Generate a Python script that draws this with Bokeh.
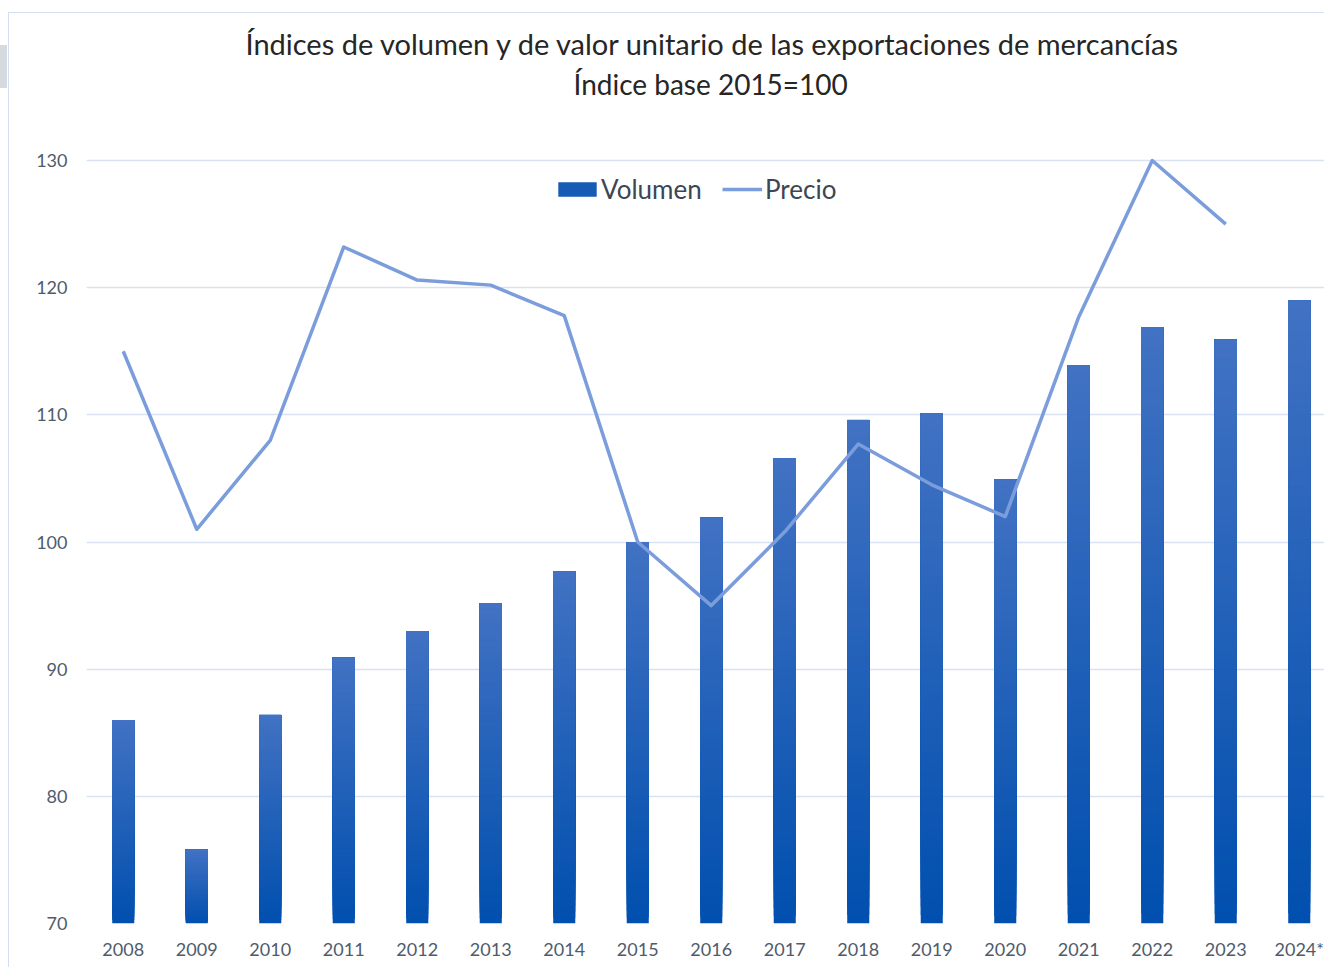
from bokeh.plotting import figure
from bokeh.models import (Range1d, FixedTicker, Legend, LegendItem, Title,
                          ColumnDataSource, InlineStyleSheet)
from bokeh.embed import file_html
from bokeh.resources import INLINE

years = ["2008", "2009", "2010", "2011", "2012", "2013", "2014", "2015", "2016",
         "2017", "2018", "2019", "2020", "2021", "2022", "2023", "2024*"]
volumen = [86.0, 75.8, 86.4, 90.9, 93.0, 95.2, 97.7, 100.0, 101.9,
           106.6, 109.6, 110.1, 104.9, 113.9, 116.9, 115.9, 119.0]
precio = [115.0, 101.0, 108.0, 123.2, 120.6, 120.2, 117.8, 100.0, 95.0,
          100.8, 107.7, 104.5, 102.0, 117.7, 130.0, 125.0]
y_ticks = [70, 80, 90, 100, 110, 120, 130]
title_line1 = "Índices de volumen y de valor unitario de las exportaciones de mercancías"
title_line2 = "Índice base 2015=100"

FONT = "Lato"
BASE = 70.0
TOP_C = (0x42, 0x72, 0xC3)
BOT_C = (0x00, 0x4F, 0xAE)
NSLICE = 60

W, H = 1324, 967
FRAME_L, FRAME_T, FRAME_B = 86, 100, 923
PX_PER_UNIT = (923 - 160) / 60.0
y_end = BASE + (FRAME_B - FRAME_T) / PX_PER_UNIT
x_end = -0.5 + (W - FRAME_L) / 73.5

p = figure(width=W, height=H, output_backend="svg", toolbar_location=None,
           x_range=Range1d(-0.5, x_end), y_range=Range1d(BASE, y_end),
           min_border_left=FRAME_L, min_border_right=0, min_border_top=FRAME_T,
           min_border_bottom=H - FRAME_B, title=None)
p.outline_line_color = None
p.background_fill_color = "white"
p.border_fill_color = "white"

# gradient bars: overlapping slices, each from its own bottom up to the bar value
xs, bots, tops, cols = [], [], [], []
for i, v in enumerate(volumen):
    for k in range(NSLICE):
        b = BASE + (v - BASE) * k / NSLICE
        f = (k + 0.5) / NSLICE  # 0 bottom -> 1 top
        c = tuple(int(round(BOT_C[j] + (TOP_C[j] - BOT_C[j]) * f)) for j in range(3))
        xs.append(i); bots.append(b); tops.append(v)
        cols.append("#%02x%02x%02x" % c)
bar_src = ColumnDataSource(dict(x=xs, bottom=bots, top=tops, color=cols))
r_bar = p.vbar(x="x", bottom="bottom", top="top", width=0.3, source=bar_src,
               fill_color="color", line_color=None)

r_line = p.line(x=list(range(len(precio))), y=precio, line_color="#7b9ddc",
                line_width=3.5, line_join="round")

# axes
p.xaxis.ticker = FixedTicker(ticks=list(range(len(years))))
p.xaxis.major_label_overrides = {i: y for i, y in enumerate(years)}
p.yaxis.ticker = FixedTicker(ticks=y_ticks)
for ax in (p.xaxis[0], p.yaxis[0]):
    ax.axis_line_color = None
    ax.major_tick_line_color = None
    ax.minor_tick_line_color = None
    ax.major_label_text_font = FONT
    ax.major_label_text_font_size = "18px"
    ax.major_label_text_color = "#4f5b6b"
p.xaxis.major_label_standoff = 8
p.yaxis.major_label_standoff = 13
p.xgrid.grid_line_color = None
p.ygrid.ticker = FixedTicker(ticks=y_ticks)
p.ygrid.grid_line_color = "#d9e2f3"
p.ygrid.grid_line_width = 1.5

# title (two lines)
t2 = Title(text=title_line2, align="left", offset=487, text_font=FONT,
           text_font_size="28px", text_font_style="normal", text_color="#262626",
           standoff=0)
t1 = Title(text=title_line1, align="left", offset=159, text_font=FONT,
           text_font_size="29px", text_font_style="normal", text_color="#262626",
           standoff=7)
p.add_layout(t2, "above")
p.add_layout(t1, "above")

# legend (two pieces so each swatch gets its own size)
common = dict(orientation="horizontal", label_text_font=FONT,
              label_text_font_size="26px", label_text_color="#3c4654",
              label_height=30, margin=0, padding=0, border_line_color=None,
              background_fill_alpha=0)
leg1 = Legend(items=[LegendItem(label="Volumen", renderers=[r_bar], index=NSLICE // 3)],
              location=(553 - FRAME_L, FRAME_B - 205), glyph_width=48,
              glyph_height=18, label_standoff=0, **common)
leg2 = Legend(items=[LegendItem(label="Precio", renderers=[r_line])],
              location=(722 - FRAME_L, FRAME_B - 205), glyph_width=40,
              glyph_height=14, label_standoff=3, **common)
p.add_layout(leg1, "center")
p.add_layout(leg2, "center")

# light chart-area border (left and top) and the grey sliver at the far left
p.stylesheets = [InlineStyleSheet(css="""
:host { position: relative; }
:host::after { content: ""; position: absolute; left: 8px; top: 12px;
  right: -20px; bottom: -20px; border-left: 1.5px solid #d3def2;
  border-top: 1.5px solid #d3def2; pointer-events: none; z-index: 10; }
:host::before { content: ""; position: absolute; left: 0px; top: 45px;
  width: 7px; height: 43px; background: #d6dade; pointer-events: none; z-index: 10; }
""")]

open("out.html", "w").write(file_html(p, INLINE))
